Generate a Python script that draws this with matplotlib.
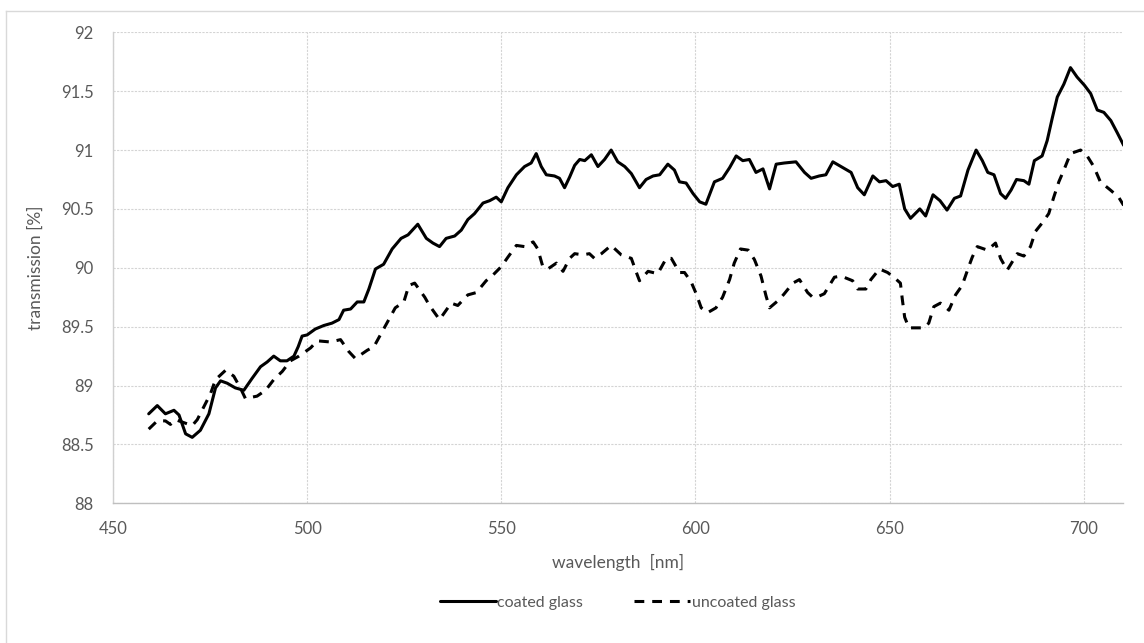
import matplotlib
matplotlib.use('Agg')
import matplotlib.pyplot as plt
from matplotlib.lines import Line2D

coated_wl = [459.2, 461.4, 463.5, 465.7, 467.0, 468.7, 470.4, 472.5, 474.7, 476.4, 477.7, 479.4,
             481.5, 483.7, 485.8, 488.0, 489.7, 491.4, 493.1, 494.8, 496.6, 497.7, 498.7, 500.0,
             502.1, 504.3, 506.4, 508.2, 509.4, 511.2, 512.9, 514.6, 515.9, 517.6, 519.7, 521.9,
             524.2, 526.0, 528.5, 530.7, 532.4, 534.1, 535.8, 538.0, 539.7, 541.4, 543.1, 545.3,
             547.0, 548.7, 550.0, 551.7, 553.9, 556.0, 557.7, 559.0, 560.3, 561.6, 563.7, 565.0,
             566.3, 567.6, 568.9, 570.2, 571.5, 573.2, 574.9, 576.6, 578.3, 580.0, 581.8, 583.5,
             585.6, 587.3, 589.1, 590.8, 592.9, 594.6, 595.9, 597.6, 599.4, 601.1, 602.7, 604.9,
             607.0, 608.8, 610.5, 612.2, 613.9, 615.6, 617.4, 619.1, 620.8, 622.9, 625.9, 628.1,
             629.8, 631.9, 633.6, 635.4, 637.5, 640.1, 641.8, 643.5, 645.7, 647.4, 649.1, 650.8,
             652.5, 653.9, 655.4, 657.8, 659.3, 661.2, 663.0, 664.8, 666.7, 668.3, 670.2, 672.3,
             673.9, 675.3, 676.9, 678.6, 679.9, 681.3, 682.7, 684.6, 685.9, 687.3, 689.3, 690.6,
             691.9, 693.2, 694.9, 696.6, 698.3, 700.2, 701.8, 703.5, 705.2, 707.0, 708.6, 710.3]
coated_T = [88.76, 88.83, 88.76, 88.79, 88.75, 88.59, 88.56, 88.62, 88.76, 88.98, 89.04, 89.02,
            88.98, 88.96, 89.06, 89.16, 89.20, 89.25, 89.21, 89.21, 89.25, 89.33, 89.42, 89.43,
            89.48, 89.51, 89.53, 89.56, 89.64, 89.65, 89.71, 89.71, 89.82, 89.99, 90.03, 90.16,
            90.25, 90.28, 90.37, 90.25, 90.21, 90.18, 90.25, 90.27, 90.32, 90.41, 90.46, 90.55,
            90.57, 90.60, 90.56, 90.68, 90.79, 90.86, 90.89, 90.97, 90.86, 90.79, 90.78, 90.76,
            90.68, 90.77, 90.87, 90.92, 90.91, 90.96, 90.86, 90.92, 91.00, 90.90, 90.86, 90.80,
            90.68, 90.75, 90.78, 90.79, 90.88, 90.83, 90.73, 90.72, 90.63, 90.56, 90.54, 90.73,
            90.76, 90.85, 90.95, 90.91, 90.92, 90.81, 90.84, 90.67, 90.88, 90.89, 90.90, 90.81,
            90.76, 90.78, 90.79, 90.90, 90.86, 90.81, 90.68, 90.62, 90.78, 90.73, 90.74, 90.69,
            90.71, 90.50, 90.42, 90.50, 90.44, 90.62, 90.57, 90.49, 90.59, 90.61, 90.83, 91.00,
            90.91, 90.81, 90.79, 90.63, 90.59, 90.66, 90.75, 90.74, 90.71, 90.91, 90.95, 91.08,
            91.27, 91.45, 91.56, 91.70, 91.62, 91.55, 91.48, 91.34, 91.32, 91.25, 91.15, 91.04]

uncoated_wl = [459.2, 461.4, 463.5, 464.8, 466.1, 468.7, 470.4, 471.7, 473.4, 475.1, 476.4, 479.0,
               481.1, 482.8, 484.1, 487.1, 489.3, 491.4, 493.6, 495.7, 497.9, 500.9, 502.6, 506.0,
               508.6, 510.7, 512.4, 515.5, 517.2, 520.2, 522.7, 524.9, 526.2, 527.7, 530.3, 531.5,
               534.1, 537.1, 538.8, 541.4, 543.6, 546.1, 547.9, 550.0, 551.7, 553.9, 556.0, 558.2,
               559.4, 560.7, 562.0, 564.2, 565.9, 567.6, 568.9, 571.0, 572.7, 574.0, 575.8, 578.3,
               580.9, 583.5, 584.8, 585.6, 587.8, 590.3, 592.5, 593.8, 595.9, 597.2, 598.9, 600.2,
               601.5, 603.2, 605.3, 607.0, 608.8, 610.0, 611.6, 613.6, 615.2, 616.9, 618.2, 619.1,
               621.6, 622.9, 625.1, 626.8, 628.9, 630.2, 631.9, 633.2, 635.8, 637.5, 640.5, 641.8,
               643.9, 645.2, 647.4, 649.5, 651.1, 652.8, 653.3, 653.9, 655.0, 656.7, 658.8, 660.1,
               661.4, 663.1, 665.3, 667.0, 668.7, 670.4, 671.3, 672.6, 675.2, 677.3, 678.6, 680.3,
               682.9, 684.6, 686.3, 687.6, 689.3, 691.0, 692.3, 693.6, 694.9, 696.6, 699.2, 700.9,
               702.6, 704.3, 706.9, 709.0, 710.3]
uncoated_T = [88.63, 88.70, 88.70, 88.67, 88.71, 88.68, 88.66, 88.71, 88.82, 88.93, 89.05, 89.13,
              89.08, 88.98, 88.89, 88.91, 88.96, 89.05, 89.12, 89.21, 89.25, 89.32, 89.38, 89.37,
              89.39, 89.29, 89.23, 89.30, 89.33, 89.51, 89.66, 89.71, 89.85, 89.87, 89.75, 89.68,
              89.56, 89.70, 89.68, 89.77, 89.79, 89.89, 89.94, 90.01, 90.09, 90.19, 90.18, 90.22,
              90.16, 90.01, 89.99, 90.04, 89.97, 90.08, 90.12, 90.11, 90.12, 90.08, 90.12, 90.19,
              90.11, 90.08, 89.96, 89.89, 89.97, 89.95, 90.08, 90.08, 89.96, 89.96, 89.88, 89.78,
              89.66, 89.62, 89.66, 89.75, 89.90, 90.04, 90.16, 90.15, 90.07, 89.93, 89.76, 89.66,
              89.73, 89.78, 89.87, 89.90, 89.79, 89.75, 89.76, 89.78, 89.92, 89.93, 89.89, 89.82,
              89.82, 89.90, 89.99, 89.96, 89.92, 89.87, 89.73, 89.58, 89.49, 89.49, 89.49, 89.53,
              89.67, 89.70, 89.64, 89.77, 89.85, 90.01, 90.09, 90.18, 90.15, 90.21, 90.08, 89.98,
              90.12, 90.10, 90.18, 90.31, 90.38, 90.46, 90.60, 90.73, 90.83, 90.97, 91.00, 90.95,
              90.86, 90.73, 90.66, 90.60, 90.53]

x_ticks = [450, 500, 550, 600, 650, 700]
y_ticks = [88, 88.5, 89, 89.5, 90, 90.5, 91, 91.5, 92]
x_label = 'wavelength  [nm]'
y_label = 'transmission [%]'
series_names = ['coated glass', 'uncoated glass']

plt.rcParams['font.family'] = ['Lato', 'DejaVu Sans']
W, H = 1144, 643
fig = plt.figure(figsize=(W / 100, H / 100), dpi=100)
ax = fig.add_axes([113 / W, 1 - 503.3 / H, (1122.5 - 113) / W, (503.3 - 32.3) / H])

ax.plot(coated_wl, coated_T, color='black', lw=2.2, solid_joinstyle='round',
        solid_capstyle='round', label=series_names[0])
ax.plot(uncoated_wl, uncoated_T, color='black', lw=2.2, linestyle=(0, (3.2, 2.6)),
        label=series_names[1])

ax.set_xlim(450, 710)
ax.set_ylim(88, 92)
ax.set_xticks(x_ticks)
ax.set_yticks(y_ticks)
ax.set_yticklabels([('%g' % v) for v in y_ticks])
ax.tick_params(length=0, labelsize=12, colors='#595959', pad=13)
ax.tick_params(axis='y', pad=14)
ax.grid(True, color='#d4d4d4', lw=0.8, linestyle=(0, (2, 1.2)))
for s in ['top', 'right']:
    ax.spines[s].set_visible(False)
ax.spines['left'].set_color('#d0d0d0')
ax.spines['bottom'].set_color('#bfbfbf')
ax.spines['left'].set_linewidth(1.0)
ax.spines['bottom'].set_linewidth(1.0)

ax.set_xlabel(x_label, fontsize=12.5, color='#595959', labelpad=12)
ax.set_ylabel(y_label, fontsize=12.5, color='#595959', labelpad=12)

leg = ax.legend(loc='upper center', bbox_to_anchor=(0.5, -0.165), ncol=2, frameon=False,
                fontsize=11.5, handlelength=3.5, handletextpad=0.1, columnspacing=3.2,
                labelcolor='#595959')

fig.add_artist(Line2D([6 / W, 1], [1 - 11 / H, 1 - 11 / H], color='#d9d9d9', lw=1.0,
                      transform=fig.transFigure))
fig.add_artist(Line2D([6 / W, 6 / W], [0, 1 - 11 / H], color='#d9d9d9', lw=1.0,
                      transform=fig.transFigure))

fig.savefig('out.png', dpi=100, facecolor='white')
